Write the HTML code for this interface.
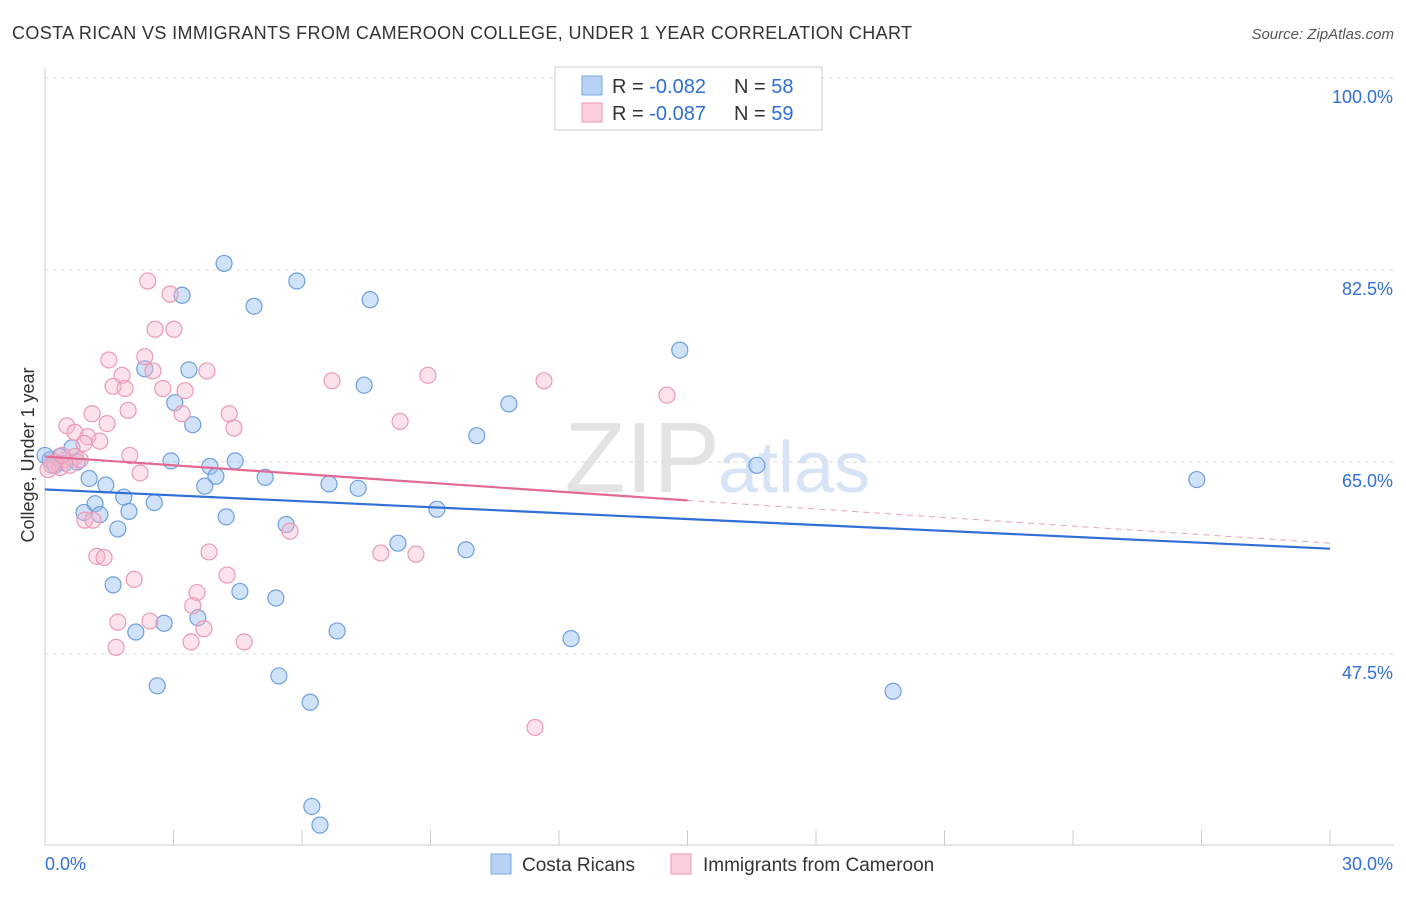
<!DOCTYPE html>
<html><head><meta charset="utf-8"><style>
body{margin:0;background:#fff;font-family:"Liberation Sans",sans-serif;}
svg text{font-family:"Liberation Sans",sans-serif;}
</style></head><body>
<svg id="c" width="1406" height="892">
<text x="12" y="39" font-size="18" fill="#333" textLength="900">COSTA RICAN VS IMMIGRANTS FROM CAMEROON COLLEGE, UNDER 1 YEAR CORRELATION CHART</text>
<text x="1394" y="39" font-size="15" fill="#555" font-style="italic" text-anchor="end">Source: ZipAtlas.com</text>
<text x="720" y="492" font-size="100" fill="#e3e3e3" text-anchor="end" font-family="Liberation Serif">ZIP</text>
<text x="718" y="492" font-size="72" fill="#d6e4f5">atlas</text>
<g id="grid"></g><g id="axes"></g><g id="pts"></g><g id="trend"></g>
<text x="34" y="455" font-size="18" fill="#333" text-anchor="middle" transform="rotate(-90 34 455)">College, Under 1 year</text>
<g>
<rect x="555" y="67" width="267" height="63" fill="#fff" stroke="#ccc"/>
<rect x="582" y="76" width="20" height="19" fill="#b8d3f5" stroke="#7aa8e6"/>
<rect x="582" y="103" width="20" height="19" fill="#fbd0dc" stroke="#ef9ab5"/>
<text x="612" y="93" font-size="20" fill="#333">R = <tspan fill="#2f6fd6">-0.082</tspan></text>
<text x="734" y="93" font-size="20" fill="#333">N = <tspan fill="#2f6fd6">58</tspan></text>
<text x="612" y="120" font-size="20" fill="#333">R = <tspan fill="#2f6fd6">-0.087</tspan></text>
<text x="734" y="120" font-size="20" fill="#333">N = <tspan fill="#2f6fd6">59</tspan></text>
</g>
<g>
<rect x="491" y="854" width="20" height="20" fill="#b8d3f5" stroke="#7aa8e6"/>
<text x="522" y="871" font-size="19" fill="#333">Costa Ricans</text>
<rect x="671" y="854" width="20" height="20" fill="#fbd0dc" stroke="#ef9ab5"/>
<text x="703" y="871" font-size="19" fill="#333">Immigrants from Cameroon</text>
</g>
</svg>
<script>
const yTicks=[100,82.5,65,47.5];
const xTickLabels=["0.0%","30.0%"];
const blueX=[4.18,5.88,3.20,4.88,7.59,14.82,2.33,3.36,7.45,3.03,10.83,3.45,10.08,0.63,0.35,0.47,0.75,2.94,3.85,4.44,3.99,5.14,1.03,3.73,6.63,7.31,1.42,1.84,1.17,2.55,0.91,1.28,1.96,9.15,4.23,5.63,1.70,8.24,9.83,1.59,4.55,5.39,3.57,2.78,2.12,6.82,12.28,2.62,5.46,6.19,19.80,6.23,6.42,16.62,26.89,0.12,0.23,0.0];
const blueY=[83.1,81.5,80.2,79.2,79.8,75.2,73.5,73.4,72.0,70.4,70.3,68.4,67.4,66.3,65.5,64.9,65.0,65.1,64.6,65.1,63.7,63.6,63.5,62.8,63.0,62.6,62.9,61.8,61.2,61.3,60.4,60.2,60.5,60.7,60.0,59.3,58.9,57.6,57.0,53.8,53.2,52.6,50.8,50.3,49.5,49.6,48.9,44.6,45.5,43.1,44.1,33.6,31.9,64.7,63.4,65.2,64.7,65.6];
const pinkX=[2.40,2.92,2.57,3.01,1.49,2.33,1.80,3.78,2.52,6.70,8.94,11.65,14.52,1.59,1.87,2.75,3.27,1.94,1.10,3.20,4.30,8.29,0.51,1.45,4.41,0.70,1.00,1.28,0.91,1.98,0.70,0.47,0.23,0.35,2.22,0.93,1.12,5.72,1.21,1.38,3.83,7.84,8.66,2.08,4.25,3.55,3.45,1.70,2.45,3.71,3.41,1.66,4.65,11.44,0.07,0.16,0.58,0.82,0.40];
const pinkY=[81.5,80.3,77.1,77.1,74.3,74.6,72.9,73.3,73.3,72.4,72.9,72.4,71.1,71.9,71.7,71.7,71.5,69.7,69.4,69.4,69.4,68.7,68.3,68.5,68.1,67.7,67.3,66.9,66.7,65.6,65.5,65.2,65.0,64.5,64.0,59.7,59.7,58.7,56.4,56.3,56.8,56.7,56.6,54.3,54.7,53.1,51.9,50.4,50.5,49.8,48.6,48.1,48.6,40.8,64.3,64.7,64.7,65.2,65.6];
const blueTrend=[[0,62.5],[30,57.1]];
const pinkTrend=[[0,65.5],[15,61.5],[30,57.6]];
const X=v=>45+v/30*1285, Y=v=>462-(v-65)*10.97;
const NS="http://www.w3.org/2000/svg";
function mk(p,t,a){const e=document.createElementNS(NS,t);for(const k in a)e.setAttribute(k,a[k]);document.getElementById(p).appendChild(e);return e;}
yTicks.forEach(v=>{
 const l=mk('grid','line',{x1:45,x2:1394,y1:Y(v),y2:Y(v),stroke:'#ddd','stroke-dasharray':'4,4'});
 
 
 const t=mk('grid','text',{x:1393,y:Y(v)+25,'font-size':18,fill:'#2f6fd6','text-anchor':'end'});t.textContent=v.toFixed(1)+'%';
 
 
});
const ax=mk('axes','line',{x1:45,x2:45,y1:68,y2:845,stroke:'#ccc'});


const bx=mk('axes','line',{x1:45,x2:1394,y1:845,y2:845,stroke:'#ccc'});


for(let i=0;i<=10;i++){const t=mk('axes','line',{x1:X(i*3),x2:X(i*3),y1:830,y2:845,stroke:'#ccc'});
 
 }
[[45,'start'],[1393,'end']].forEach((p,i)=>{const t=mk('axes','text',{x:p[0],y:870,'font-size':18,fill:'#2f6fd6','text-anchor':p[1]});t.textContent=xTickLabels[i];
 
 });
blueX.forEach((v,i)=>{const c=mk('pts','circle',{cx:X(v),cy:Y(blueY[i]),r:8,fill:'rgba(150,190,240,0.45)',stroke:'#6f9fdf','stroke-width':1.2});
 
 });
pinkX.forEach((v,i)=>{const c=mk('pts','circle',{cx:X(v),cy:Y(pinkY[i]),r:8,fill:'rgba(248,185,205,0.4)',stroke:'#eb9ab4','stroke-width':1.2});
 
 });
let b=mk('trend','line',{x1:X(blueTrend[0][0]),y1:Y(blueTrend[0][1]),x2:X(blueTrend[1][0]),y2:Y(blueTrend[1][1]),stroke:'#2f6fd6','stroke-width':2.2});


let p1=mk('trend','line',{x1:X(pinkTrend[0][0]),y1:Y(pinkTrend[0][1]),x2:X(pinkTrend[1][0]),y2:Y(pinkTrend[1][1]),stroke:'#e36a92','stroke-width':2.2});


let p2=mk('trend','line',{x1:X(pinkTrend[1][0]),y1:Y(pinkTrend[1][1]),x2:X(pinkTrend[2][0]),y2:Y(pinkTrend[2][1]),stroke:'#e9a0b8','stroke-width':1,'stroke-dasharray':'6,5'});


</script>
</body></html>
